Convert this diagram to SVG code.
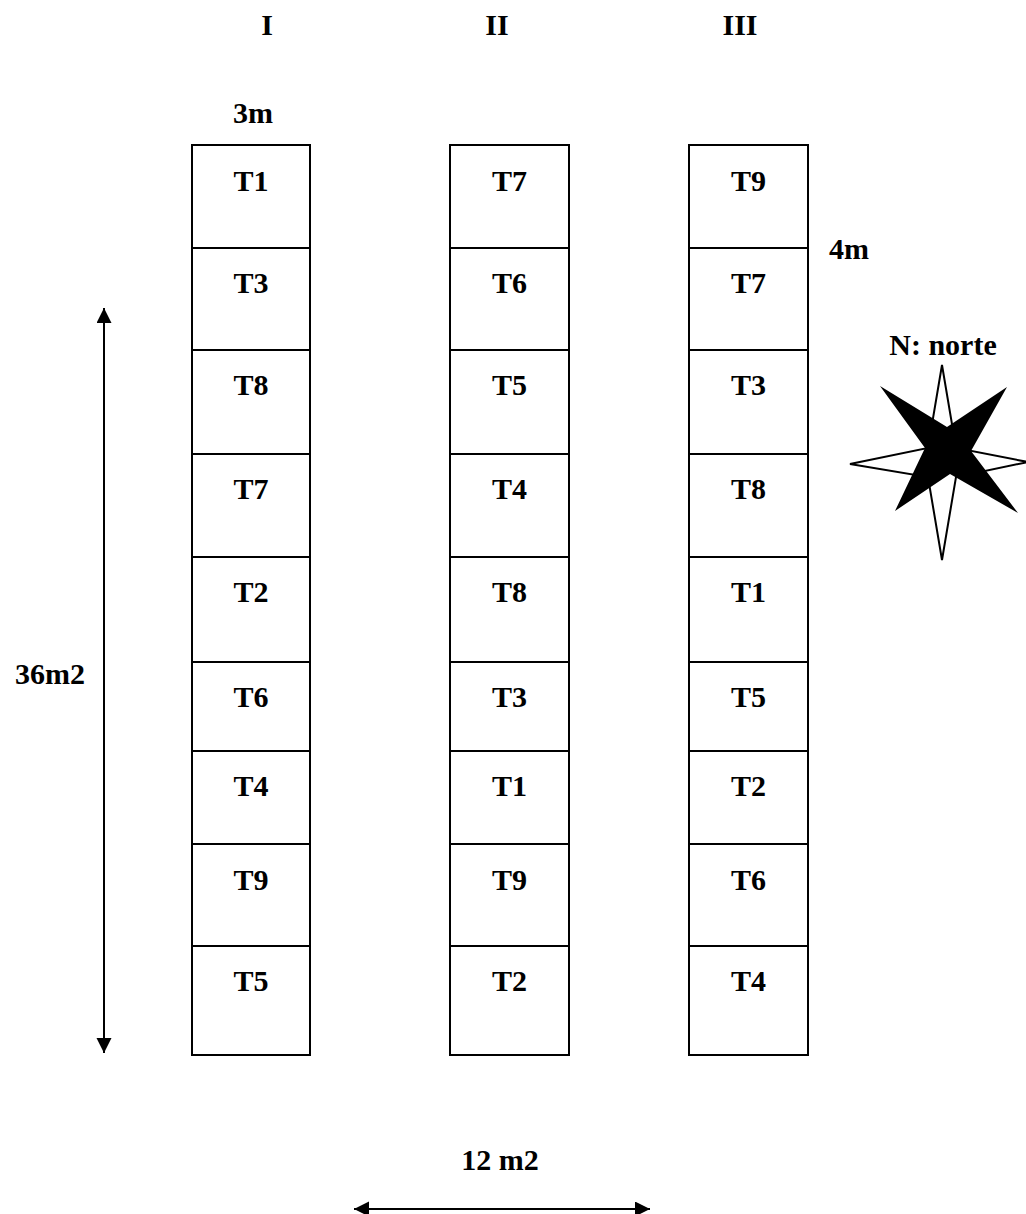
<svg xmlns="http://www.w3.org/2000/svg" width="1026" height="1214" viewBox="0 0 1026 1214">
<style>
text{font-family:"Liberation Serif","Times New Roman",serif;font-weight:bold;font-size:30px;fill:#000;text-anchor:middle}
.cell{fill:#fff;stroke:#000;stroke-width:2}
.conn{stroke:#000;stroke-width:2;fill:none}
</style>
<defs>
<marker id="ah" markerUnits="userSpaceOnUse" markerWidth="16" markerHeight="16" viewBox="0 0 16 16" refX="15" refY="7.5" orient="auto-start-reverse">
<path d="M0,0 L15,7.5 L0,15 z" fill="#000"/>
</marker>
</defs>
<rect width="1026" height="1214" fill="#fff"/>
<g id="headers">
<text x="267" y="35">I</text>
<text x="497" y="35">II</text>
<text x="740" y="35">III</text>
</g>
<g id="labels">
<text x="253" y="123">3m</text>
<text x="849" y="259">4m</text>
<text x="943" y="355">N: norte</text>
<text x="50" y="684">36m2</text>
<text x="500" y="1170">12 m2</text>
</g>
<g id="col1">
<g id="c1r1"><rect class="cell" x="192" y="145" width="118" height="103"/><text x="251" y="191">T1</text></g>
<g id="c1r2"><rect class="cell" x="192" y="248" width="118" height="102"/><text x="251" y="293">T3</text></g>
<g id="c1r3"><rect class="cell" x="192" y="350" width="118" height="104"/><text x="251" y="395">T8</text></g>
<g id="c1r4"><rect class="cell" x="192" y="454" width="118" height="103"/><text x="251" y="499">T7</text></g>
<g id="c1r5"><rect class="cell" x="192" y="557" width="118" height="105"/><text x="251" y="602">T2</text></g>
<g id="c1r6"><rect class="cell" x="192" y="662" width="118" height="89"/><text x="251" y="707">T6</text></g>
<g id="c1r7"><rect class="cell" x="192" y="751" width="118" height="93"/><text x="251" y="796">T4</text></g>
<g id="c1r8"><rect class="cell" x="192" y="844" width="118" height="102"/><text x="251" y="890">T9</text></g>
<g id="c1r9"><rect class="cell" x="192" y="946" width="118" height="109"/><text x="251" y="991">T5</text></g>
</g>
<g id="col2">
<g id="c2r1"><rect class="cell" x="450" y="145" width="119" height="103"/><text x="509.5" y="191">T7</text></g>
<g id="c2r2"><rect class="cell" x="450" y="248" width="119" height="102"/><text x="509.5" y="293">T6</text></g>
<g id="c2r3"><rect class="cell" x="450" y="350" width="119" height="104"/><text x="509.5" y="395">T5</text></g>
<g id="c2r4"><rect class="cell" x="450" y="454" width="119" height="103"/><text x="509.5" y="499">T4</text></g>
<g id="c2r5"><rect class="cell" x="450" y="557" width="119" height="105"/><text x="509.5" y="602">T8</text></g>
<g id="c2r6"><rect class="cell" x="450" y="662" width="119" height="89"/><text x="509.5" y="707">T3</text></g>
<g id="c2r7"><rect class="cell" x="450" y="751" width="119" height="93"/><text x="509.5" y="796">T1</text></g>
<g id="c2r8"><rect class="cell" x="450" y="844" width="119" height="102"/><text x="509.5" y="890">T9</text></g>
<g id="c2r9"><rect class="cell" x="450" y="946" width="119" height="109"/><text x="509.5" y="991">T2</text></g>
</g>
<g id="col3">
<g id="c3r1"><rect class="cell" x="689" y="145" width="119" height="103"/><text x="748.5" y="191">T9</text></g>
<g id="c3r2"><rect class="cell" x="689" y="248" width="119" height="102"/><text x="748.5" y="293">T7</text></g>
<g id="c3r3"><rect class="cell" x="689" y="350" width="119" height="104"/><text x="748.5" y="395">T3</text></g>
<g id="c3r4"><rect class="cell" x="689" y="454" width="119" height="103"/><text x="748.5" y="499">T8</text></g>
<g id="c3r5"><rect class="cell" x="689" y="557" width="119" height="105"/><text x="748.5" y="602">T1</text></g>
<g id="c3r6"><rect class="cell" x="689" y="662" width="119" height="89"/><text x="748.5" y="707">T5</text></g>
<g id="c3r7"><rect class="cell" x="689" y="751" width="119" height="93"/><text x="748.5" y="796">T2</text></g>
<g id="c3r8"><rect class="cell" x="689" y="844" width="119" height="102"/><text x="748.5" y="890">T6</text></g>
<g id="c3r9"><rect class="cell" x="689" y="946" width="119" height="109"/><text x="748.5" y="991">T4</text></g>
</g>
<g id="connectors">
<line class="conn" x1="104" y1="308" x2="104" y2="1053" marker-start="url(#ah)" marker-end="url(#ah)"/>
<line class="conn" x1="354" y1="1209" x2="650" y2="1209" marker-start="url(#ah)" marker-end="url(#ah)"/>
</g>
<g id="compass">
<polygon points="942,365 956,448 1028,462 956,477 942,560 928,477 850,464 928,448" fill="#fff" stroke="#000" stroke-width="2"/>
<polygon points="880,386 947,427 1007,387 971,451 1018,513 950,474 895,511 925,448" fill="#000"/>
</g>
</svg>
